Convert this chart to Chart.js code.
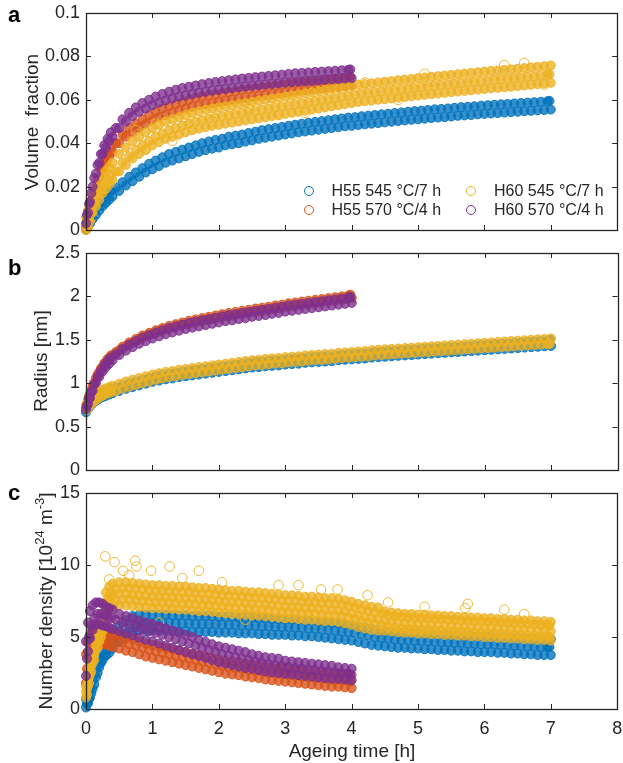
<!DOCTYPE html>
<html><head><meta charset="utf-8">
<script src="https://cdn.jsdelivr.net/npm/chart.js@4.4.1/dist/chart.umd.min.js"></script>
<style>
body{margin:0;background:#fff;width:623px;height:763px;position:relative;overflow:hidden;font-family:"Liberation Sans",Arial,Helvetica,sans-serif;color:#262626}
canvas{position:absolute;left:0}
.t{position:absolute;white-space:nowrap;line-height:1;font-size:19px;transform:translate(-50%,-50%)}
.yl{transform:translate(-50%,-50%) rotate(-90deg)}
.pl{position:absolute;font-weight:bold;font-size:22px;line-height:1;color:#000}
.lg{position:absolute;font-size:16px;line-height:1;white-space:nowrap}
.mk{position:absolute;width:8px;height:8px;border-radius:50%;border:1px solid;box-sizing:content-box}
.sup{font-size:13px;position:relative;top:-8px}
</style></head>
<body>
<canvas id="ca" width="623" height="240" style="top:0"></canvas>
<canvas id="cb" width="623" height="240" style="top:240px"></canvas>
<canvas id="cc" width="623" height="283" style="top:480px"></canvas>

<div class="pl" style="left:8px;top:4px">a</div>
<div class="pl" style="left:8px;top:257px">b</div>
<div class="pl" style="left:8px;top:482px">c</div>

<div class="t yl" style="left:31px;top:122px">Volume&nbsp;&nbsp;fraction</div>
<div class="t yl" style="left:40px;top:361px">Radius [nm]</div>
<div class="t yl" style="left:45px;top:601px">Number density [10<span class="sup">24</span> m<span class="sup">-3</span>]</div>
<div class="t" style="left:352px;top:750px">Ageing time [h]</div>

<div id="legend"></div>

<script>
// ---------- time grids [h] ----------
const T7 = [0,0.03,0.06,0.1,0.15,0.2,0.25,0.3,0.35,0.4,0.5,0.6,0.7,0.8,0.9,1,1.1,1.2,1.3,1.4,1.5,1.6,1.7,1.8,1.9,2,2.1,2.2,2.3,2.4,2.5,2.6,2.7,2.8,2.9,3,3.1,3.2,3.3,3.4,3.5,3.6,3.7,3.8,3.9,4,4.1,4.2,4.3,4.4,4.5,4.6,4.7,4.8,4.9,5,5.1,5.2,5.3,5.4,5.5,5.6,5.7,5.8,5.9,6,6.1,6.2,6.3,6.4,6.5,6.6,6.7,6.8,6.9,7];
const T7h = [0.015,0.045,0.08,0.125,0.175,0.225,0.275,0.325,0.375,0.45,0.55,0.65,0.75,0.85,0.95,1.05,1.15,1.25,1.35,1.45,1.55,1.65,1.75,1.85,1.95,2.05,2.15,2.25,2.35,2.45,2.55,2.65,2.75,2.85,2.95,3.05,3.15,3.25,3.35,3.45,3.55,3.65,3.75,3.85,3.95,4.05,4.15,4.25,4.35,4.45,4.55,4.65,4.75,4.85,4.95,5.05,5.15,5.25,5.35,5.45,5.55,5.65,5.75,5.85,5.95,6.05,6.15,6.25,6.35,6.45,6.55,6.65,6.75,6.85,6.95,6.98];
const T4 = [0,0.03,0.06,0.1,0.15,0.2,0.25,0.3,0.35,0.4,0.5,0.6,0.7,0.8,0.9,1,1.1,1.2,1.3,1.4,1.5,1.6,1.7,1.8,1.9,2,2.1,2.2,2.3,2.4,2.5,2.6,2.7,2.8,2.9,3,3.1,3.2,3.3,3.4,3.5,3.6,3.7,3.8,3.9,4];
const T4h = [0.015,0.045,0.08,0.125,0.175,0.225,0.275,0.325,0.375,0.45,0.55,0.65,0.75,0.85,0.95,1.05,1.15,1.25,1.35,1.45,1.55,1.65,1.75,1.85,1.95,2.05,2.15,2.25,2.35,2.45,2.55,2.65,2.75,2.85,2.95,3.05,3.15,3.25,3.35,3.45,3.55,3.65,3.75,3.85,3.95,3.98];

// ---------- series ----------
const seriesLabels = ["H55 545 °C/7 h","H55 570 °C/4 h","H60 545 °C/7 h","H60 570 °C/4 h"];
const seriesColors = ["#0072BD","#D95319","#EDB120","#7E2F8E"];

// ---------- panel a: volume fraction ----------
const volBlueLo = [0,0.0015,0.003,0.005,0.007,0.009,0.011,0.0125,0.014,0.0155,0.018,0.0205,0.0225,0.0245,0.0265,0.028,0.0295,0.031,0.032,0.033,0.034,0.035,0.036,0.0368,0.0375,0.038,0.039,0.0395,0.040,0.0407,0.0413,0.042,0.0425,0.043,0.0435,0.044,0.0445,0.045,0.0454,0.0458,0.0462,0.0466,0.047,0.0474,0.0478,0.048,0.0484,0.0487,0.049,0.0493,0.0496,0.0499,0.0502,0.0505,0.0508,0.051,0.0513,0.0516,0.0518,0.052,0.0523,0.0526,0.0528,0.053,0.0533,0.0535,0.0537,0.0539,0.0541,0.0543,0.0545,0.0547,0.0549,0.0551,0.0553,0.0555];
const volBlueHi = [0.003,0.0055,0.007,0.009,0.011,0.013,0.015,0.0165,0.018,0.0195,0.022,0.0245,0.0265,0.0285,0.0305,0.032,0.0335,0.035,0.036,0.037,0.038,0.039,0.040,0.0408,0.0415,0.042,0.043,0.0435,0.044,0.0447,0.0453,0.046,0.0465,0.047,0.0475,0.048,0.0485,0.049,0.0494,0.0498,0.0502,0.0506,0.051,0.0514,0.0518,0.052,0.0524,0.0527,0.053,0.0533,0.0536,0.0539,0.0542,0.0545,0.0548,0.055,0.0553,0.0556,0.0558,0.056,0.0563,0.0566,0.0568,0.057,0.0573,0.0575,0.0577,0.0579,0.0581,0.0583,0.0585,0.0587,0.0589,0.0591,0.0593,0.0595];
const volOrangeLo = [0.001,0.005,0.009,0.014,0.019,0.024,0.028,0.031,0.034,0.036,0.040,0.043,0.045,0.047,0.049,0.0505,0.052,0.053,0.054,0.055,0.056,0.0568,0.0575,0.058,0.0585,0.059,0.0595,0.060,0.0605,0.061,0.0614,0.0618,0.0622,0.0626,0.063,0.0634,0.0638,0.0642,0.0645,0.0648,0.0651,0.0654,0.0657,0.066,0.0663,0.0666];
const volOrangeHi = [0.005,0.009,0.013,0.018,0.023,0.028,0.032,0.035,0.038,0.040,0.044,0.047,0.049,0.051,0.053,0.0545,0.056,0.057,0.058,0.059,0.060,0.0608,0.0615,0.062,0.0625,0.063,0.0635,0.064,0.0645,0.065,0.0654,0.0658,0.0662,0.0666,0.067,0.0674,0.0678,0.0682,0.0685,0.0688,0.0691,0.0694,0.0697,0.070,0.0703,0.0706];
const volYellowLo = [0,0.001,0.004,0.008,0.011,0.014,0.017,0.019,0.021,0.023,0.027,0.030,0.033,0.035,0.037,0.039,0.0405,0.042,0.043,0.044,0.045,0.046,0.0467,0.0474,0.048,0.0485,0.049,0.0495,0.050,0.0505,0.051,0.0515,0.052,0.0525,0.053,0.0535,0.054,0.0545,0.055,0.0555,0.056,0.0565,0.057,0.0575,0.058,0.0585,0.059,0.0593,0.0596,0.060,0.0603,0.0606,0.061,0.0613,0.0616,0.062,0.0623,0.0626,0.0629,0.0632,0.0635,0.0638,0.0641,0.0644,0.0647,0.065,0.0653,0.0655,0.0658,0.066,0.0663,0.0666,0.0669,0.0672,0.0675,0.0678];
const volYellowMid = [0.002,0.005,0.008,0.012,0.015,0.018,0.021,0.023,0.025,0.027,0.031,0.034,0.037,0.039,0.041,0.043,0.0445,0.046,0.047,0.048,0.049,0.050,0.0507,0.0514,0.052,0.0525,0.053,0.0535,0.054,0.0545,0.055,0.0555,0.056,0.0565,0.057,0.0575,0.058,0.0585,0.059,0.0595,0.060,0.0605,0.061,0.0615,0.062,0.0625,0.063,0.0633,0.0636,0.064,0.0643,0.0646,0.065,0.0653,0.0656,0.066,0.0663,0.0666,0.0669,0.0672,0.0675,0.0678,0.0681,0.0684,0.0687,0.069,0.0693,0.0695,0.0698,0.070,0.0703,0.0706,0.0709,0.0712,0.0715,0.0718];
const volYellowHi = [0.006,0.009,0.012,0.016,0.019,0.022,0.025,0.027,0.029,0.031,0.035,0.038,0.041,0.043,0.045,0.047,0.0485,0.050,0.051,0.052,0.053,0.054,0.0547,0.0554,0.056,0.0565,0.057,0.0575,0.058,0.0585,0.059,0.0595,0.060,0.0605,0.061,0.0615,0.062,0.0625,0.063,0.0635,0.064,0.0645,0.065,0.0655,0.066,0.0665,0.067,0.0673,0.0676,0.068,0.0683,0.0686,0.069,0.0693,0.0696,0.070,0.0703,0.0706,0.0709,0.0712,0.0715,0.0718,0.0721,0.0724,0.0727,0.073,0.0733,0.0735,0.0738,0.074,0.0743,0.0746,0.0749,0.0752,0.0755,0.0758];
const volYellowOutT = [0.75,1.05,1.5,1.9,2.45,2.9,3.3,0.9,1.3,4.2,5.1,6.3,6.6,6.9,4.7,3.7];
const volYellowOutV = [0.046,0.049,0.052,0.050,0.056,0.053,0.054,0.037,0.041,0.068,0.072,0.076,0.077,0.067,0.060,0.066];
const volPurpleLo = [0.003,0.008,0.013,0.020,0.026,0.031,0.035,0.038,0.041,0.043,0.047,0.050,0.0525,0.0545,0.056,0.0575,0.0587,0.0597,0.0606,0.0614,0.062,0.0626,0.0632,0.0637,0.0642,0.0646,0.065,0.0654,0.0658,0.0661,0.0664,0.0667,0.067,0.0673,0.0676,0.0679,0.0682,0.0684,0.0686,0.0688,0.069,0.0692,0.0694,0.0696,0.0698,0.070];
const volPurpleHi = [0.007,0.012,0.017,0.024,0.030,0.035,0.039,0.042,0.045,0.047,0.051,0.054,0.0565,0.0585,0.060,0.0615,0.0627,0.0637,0.0646,0.0654,0.066,0.0666,0.0672,0.0677,0.0682,0.0686,0.069,0.0694,0.0698,0.0701,0.0704,0.0707,0.071,0.0713,0.0716,0.0719,0.0722,0.0724,0.0726,0.0728,0.073,0.0732,0.0734,0.0736,0.0738,0.074];

// ---------- panel b: radius [nm] ----------
const radBlueLo = [0.665,0.705,0.735,0.765,0.795,0.82,0.84,0.855,0.87,0.885,0.91,0.935,0.955,0.975,0.995,1.015,1.03,1.045,1.055,1.07,1.08,1.09,1.10,1.11,1.12,1.13,1.14,1.15,1.16,1.17,1.18,1.185,1.195,1.20,1.205,1.215,1.22,1.225,1.235,1.24,1.245,1.25,1.255,1.265,1.27,1.275,1.28,1.285,1.295,1.30,1.305,1.31,1.315,1.32,1.325,1.33,1.335,1.34,1.345,1.35,1.355,1.36,1.365,1.37,1.375,1.38,1.385,1.39,1.395,1.40,1.405,1.41,1.415,1.42,1.425,1.43];
const radBlueHi = [0.73,0.77,0.80,0.83,0.86,0.885,0.905,0.92,0.935,0.95,0.975,1.0,1.02,1.04,1.06,1.08,1.095,1.11,1.12,1.135,1.145,1.155,1.165,1.175,1.185,1.195,1.205,1.215,1.225,1.235,1.245,1.25,1.26,1.265,1.27,1.28,1.285,1.29,1.30,1.305,1.31,1.315,1.32,1.33,1.335,1.34,1.345,1.35,1.36,1.365,1.37,1.375,1.38,1.385,1.39,1.395,1.40,1.405,1.41,1.415,1.42,1.425,1.43,1.435,1.44,1.445,1.45,1.455,1.46,1.465,1.47,1.475,1.48,1.485,1.49,1.50];
const radOrangeLo = [0.73,0.81,0.88,0.97,1.06,1.13,1.19,1.24,1.28,1.32,1.38,1.43,1.47,1.51,1.54,1.57,1.595,1.62,1.64,1.66,1.68,1.695,1.71,1.725,1.74,1.755,1.77,1.78,1.795,1.805,1.82,1.83,1.84,1.855,1.865,1.88,1.89,1.90,1.91,1.92,1.93,1.94,1.95,1.96,1.97,1.98];
const radOrangeHi = [0.77,0.85,0.92,1.01,1.10,1.17,1.23,1.28,1.32,1.36,1.42,1.47,1.51,1.55,1.58,1.61,1.635,1.66,1.68,1.70,1.72,1.735,1.75,1.765,1.78,1.795,1.81,1.82,1.835,1.845,1.86,1.87,1.88,1.895,1.905,1.92,1.93,1.94,1.95,1.96,1.97,1.98,1.99,2.00,2.01,2.02];
const radYellowLo = [0.69,0.73,0.76,0.79,0.82,0.845,0.865,0.88,0.895,0.91,0.935,0.96,0.98,1.00,1.02,1.04,1.055,1.07,1.08,1.095,1.105,1.115,1.125,1.135,1.145,1.155,1.165,1.175,1.185,1.195,1.205,1.21,1.22,1.225,1.23,1.24,1.245,1.25,1.26,1.265,1.27,1.275,1.28,1.29,1.295,1.30,1.305,1.31,1.32,1.325,1.33,1.335,1.34,1.345,1.35,1.355,1.36,1.365,1.37,1.375,1.38,1.385,1.39,1.395,1.40,1.405,1.41,1.415,1.42,1.425,1.43,1.435,1.44,1.445,1.45,1.455];
const radYellowHi = [0.75,0.79,0.82,0.85,0.88,0.905,0.925,0.94,0.955,0.97,0.995,1.02,1.04,1.06,1.08,1.10,1.115,1.13,1.14,1.155,1.165,1.175,1.185,1.195,1.205,1.215,1.225,1.235,1.245,1.255,1.265,1.27,1.28,1.285,1.29,1.30,1.305,1.31,1.32,1.325,1.33,1.335,1.34,1.35,1.355,1.36,1.365,1.37,1.38,1.385,1.39,1.395,1.40,1.405,1.41,1.415,1.42,1.425,1.43,1.435,1.44,1.445,1.45,1.455,1.46,1.465,1.47,1.475,1.48,1.485,1.49,1.495,1.50,1.505,1.51,1.515];
const radPurpleLo = [0.70,0.76,0.83,0.915,1.005,1.075,1.135,1.185,1.225,1.265,1.325,1.375,1.415,1.455,1.485,1.515,1.54,1.565,1.585,1.605,1.625,1.64,1.655,1.67,1.685,1.70,1.715,1.725,1.74,1.75,1.765,1.775,1.785,1.80,1.81,1.825,1.835,1.845,1.855,1.865,1.875,1.885,1.895,1.905,1.915,1.925];
const radPurpleHi = [0.74,0.825,0.895,0.985,1.075,1.145,1.205,1.255,1.295,1.335,1.395,1.445,1.485,1.525,1.555,1.585,1.61,1.635,1.655,1.675,1.695,1.71,1.725,1.74,1.755,1.77,1.785,1.795,1.81,1.82,1.835,1.845,1.855,1.87,1.88,1.895,1.905,1.915,1.925,1.935,1.945,1.955,1.965,1.975,1.985,1.995];

// ---------- panel c: number density [1e24 m^-3] ----------
const denBlueLo = [0.1,0.4,0.8,1.4,2.2,2.9,3.4,3.7,3.9,4.2,4.65,5.05,5.35,5.45,5.45,5.45,5.45,5.45,5.4,5.4,5.4,5.35,5.35,5.35,5.35,5.3,5.3,5.3,5.25,5.25,5.25,5.2,5.2,5.15,5.15,5.15,5.1,5.1,5.05,5.05,5.0,4.95,4.9,4.85,4.8,4.75,4.65,4.55,4.45,4.4,4.35,4.3,4.25,4.25,4.2,4.2,4.15,4.15,4.1,4.1,4.05,4.05,4.0,4.0,3.95,3.95,3.95,3.9,3.9,3.85,3.85,3.8,3.8,3.75,3.75,3.75];
const denBlueMid = [0.4,0.7,1.1,1.7,2.5,3.2,3.7,4.1,4.4,4.7,5.2,5.6,5.9,6.0,6.0,6.0,6.0,6.0,5.95,5.95,5.95,5.9,5.9,5.9,5.9,5.85,5.85,5.85,5.8,5.8,5.8,5.75,5.75,5.7,5.7,5.7,5.65,5.65,5.6,5.6,5.55,5.5,5.45,5.4,5.35,5.3,5.2,5.1,5.0,4.95,4.9,4.85,4.8,4.8,4.75,4.75,4.7,4.7,4.65,4.65,4.6,4.6,4.55,4.55,4.5,4.5,4.5,4.45,4.45,4.4,4.4,4.35,4.35,4.3,4.3,4.3];
const denBlueHi = [0.7,1.0,1.4,2.0,2.8,3.5,4.0,4.5,4.9,5.2,5.75,6.15,6.45,6.55,6.55,6.55,6.55,6.55,6.5,6.5,6.5,6.45,6.45,6.45,6.45,6.4,6.4,6.4,6.35,6.35,6.35,6.3,6.3,6.25,6.25,6.25,6.2,6.2,6.15,6.15,6.1,6.05,6.0,5.95,5.9,5.85,5.75,5.65,5.55,5.5,5.45,5.4,5.35,5.35,5.3,5.3,5.25,5.25,5.2,5.2,5.15,5.15,5.1,5.1,5.05,5.05,5.05,5.0,5.0,4.95,4.95,4.9,4.9,4.85,4.85,4.85];
const denOrangeLo = [1.8,2.6,3.2,3.9,4.4,4.5,4.5,4.5,4.4,4.3,4.2,4.05,3.95,3.8,3.65,3.55,3.45,3.35,3.25,3.15,3.05,2.95,2.85,2.75,2.65,2.55,2.45,2.4,2.35,2.25,2.2,2.15,2.05,2.0,1.95,1.9,1.85,1.8,1.75,1.7,1.65,1.6,1.55,1.55,1.5,1.45];
const denOrangeMid = [2.8,3.6,4.2,4.7,5.0,5.1,5.1,5.0,4.9,4.8,4.65,4.5,4.4,4.25,4.1,4.0,3.9,3.8,3.7,3.6,3.5,3.4,3.3,3.2,3.1,3.0,2.9,2.85,2.8,2.7,2.65,2.6,2.5,2.45,2.4,2.35,2.3,2.25,2.2,2.15,2.1,2.05,2.0,2.0,1.95,1.9];
const denOrangeHi = [3.8,4.6,5.2,5.5,5.6,5.7,5.7,5.5,5.4,5.3,5.1,4.95,4.85,4.7,4.55,4.45,4.35,4.25,4.15,4.05,3.95,3.85,3.75,3.65,3.55,3.45,3.35,3.3,3.25,3.15,3.1,3.05,2.95,2.9,2.85,2.8,2.75,2.7,2.65,2.6,2.55,2.5,2.45,2.45,2.4,2.35];
const denYellowLo = [0.8,1.6,2.4,3.2,4.1,4.7,5.4,6.5,6.9,7.1,7.2,7.2,7.15,7.1,7.05,7.0,7.0,6.95,6.95,6.9,6.9,6.85,6.8,6.8,6.75,6.7,6.65,6.6,6.6,6.55,6.5,6.5,6.45,6.4,6.35,6.3,6.3,6.25,6.2,6.2,6.15,6.1,6.1,6.05,5.95,5.85,5.7,5.6,5.5,5.45,5.45,5.4,5.35,5.3,5.3,5.25,5.25,5.2,5.2,5.15,5.15,5.1,5.1,5.05,5.05,5.0,5.0,4.95,4.95,4.9,4.9,4.85,4.85,4.8,4.8,4.75];
const denYellowQ1 = [1.0,1.8,2.6,3.4,4.3,5.0,5.8,6.9,7.3,7.5,7.6,7.6,7.55,7.5,7.45,7.4,7.4,7.35,7.35,7.3,7.3,7.25,7.2,7.2,7.15,7.1,7.05,7.0,7.0,6.95,6.9,6.9,6.85,6.8,6.75,6.7,6.7,6.65,6.6,6.6,6.55,6.5,6.5,6.45,6.35,6.25,6.1,6.0,5.9,5.85,5.7,5.65,5.6,5.55,5.55,5.5,5.5,5.45,5.45,5.4,5.4,5.35,5.35,5.3,5.3,5.25,5.25,5.2,5.2,5.15,5.15,5.1,5.1,5.05,5.05,5.0];
const denYellowMid = [1.2,2.0,2.8,3.6,4.5,5.2,6.0,7.3,7.7,7.9,8.0,8.0,7.95,7.9,7.85,7.8,7.8,7.75,7.75,7.7,7.7,7.65,7.6,7.6,7.55,7.5,7.45,7.4,7.4,7.35,7.3,7.3,7.25,7.2,7.15,7.1,7.1,7.05,7.0,7.0,6.95,6.9,6.9,6.85,6.75,6.65,6.5,6.4,6.3,6.25,6.1,6.05,6.0,5.95,5.95,5.9,5.9,5.85,5.85,5.8,5.8,5.75,5.75,5.7,5.7,5.65,5.65,5.6,5.6,5.55,5.55,5.5,5.5,5.45,5.45,5.4];
const denYellowQ3 = [1.4,2.2,3.0,3.8,4.7,5.4,6.2,7.7,8.1,8.3,8.4,8.4,8.35,8.3,8.25,8.2,8.2,8.15,8.15,8.1,8.1,8.05,8.0,8.0,7.95,7.9,7.85,7.8,7.8,7.75,7.7,7.7,7.65,7.6,7.55,7.5,7.5,7.45,7.4,7.4,7.35,7.3,7.3,7.25,7.15,7.05,6.9,6.8,6.7,6.65,6.5,6.45,6.4,6.35,6.35,6.3,6.3,6.25,6.25,6.2,6.2,6.15,6.15,6.1,6.1,6.05,6.05,6.0,6.0,5.95,5.95,5.9,5.9,5.85,5.85,5.8];
const denYellowHi = [1.6,2.4,3.2,4.0,4.9,5.6,6.6,8.1,8.5,8.7,8.8,8.8,8.75,8.7,8.65,8.6,8.6,8.55,8.55,8.5,8.5,8.45,8.4,8.4,8.35,8.3,8.25,8.2,8.2,8.15,8.1,8.1,8.05,8.0,7.95,7.9,7.9,7.85,7.8,7.8,7.75,7.7,7.7,7.65,7.55,7.45,7.3,7.2,7.1,7.05,6.75,6.7,6.65,6.6,6.6,6.55,6.55,6.5,6.5,6.45,6.45,6.4,6.4,6.35,6.35,6.3,6.3,6.25,6.25,6.2,6.2,6.15,6.15,6.1,6.1,6.05];
const denYellowOutT = [0.29,0.43,0.74,0.76,1.26,1.7,0.56,0.98,3.54,3.79,4.24,5.71,0.65,1.45,2.05,2.9,3.2,4.55,5.1,6.3,0.35,1.1,2.4,4.9,5.75,6.6];
const denYellowOutV = [10.6,10.2,10.3,9.9,9.9,9.6,9.6,9.6,8.3,8.3,7.9,7.0,9.3,9.1,8.8,8.6,8.6,7.4,7.1,6.9,9.0,6.0,6.2,5.5,7.3,6.6];
const denPurpleLo = [2.3,4.0,4.9,5.5,5.9,5.9,5.8,5.75,5.65,5.55,5.4,5.25,5.1,4.95,4.8,4.7,4.55,4.4,4.25,4.1,3.95,3.8,3.7,3.55,3.4,3.25,3.15,3.05,2.95,2.85,2.8,2.7,2.6,2.55,2.5,2.45,2.4,2.35,2.3,2.25,2.2,2.15,2.1,2.1,2.05,2.0];
const denPurpleMid = [3.5,5.0,5.8,6.3,6.6,6.6,6.5,6.4,6.3,6.2,6.0,5.85,5.7,5.55,5.4,5.3,5.15,5.0,4.85,4.7,4.55,4.4,4.25,4.1,3.95,3.8,3.7,3.6,3.5,3.4,3.3,3.2,3.1,3.05,3.0,2.9,2.85,2.8,2.75,2.7,2.65,2.6,2.55,2.5,2.45,2.4];
const denPurpleHi = [4.7,6.0,6.8,7.2,7.4,7.4,7.3,7.1,7.0,6.9,6.6,6.45,6.3,6.15,6.0,5.9,5.75,5.6,5.45,5.3,5.15,5.0,4.8,4.65,4.5,4.35,4.25,4.15,4.05,3.95,3.8,3.7,3.6,3.55,3.5,3.35,3.3,3.25,3.2,3.15,3.1,3.05,3.0,2.9,2.85,2.8];

// ---------- axis ticks ----------
const xTicks = [0,1,2,3,4,5,6,7,8];
const volTicks = [0,0.02,0.04,0.06,0.08,0.1];
const radTicks = [0,0.5,1,1.5,2,2.5];
const denTicks = [0,5,10,15];

// ---------- helpers ----------
function pts(T, Y){ const n = Math.min(T.length, Y.length); const o = []; for (let i = 0; i < n; i++) o.push({x: T[i], y: Y[i]}); return o; }
function hexA(h, a){ const n = parseInt(h.slice(1), 16); return `rgba(${n>>16},${(n>>8)&255},${n&255},${a})`; }
function ds(k, rows){
  let d = []; rows.forEach(r => { d = d.concat(pts(r[0], r[1])); });
  return { label: seriesLabels[k], data: d, order: 4 - k,
    borderColor: hexA(seriesColors[k], 0.9), backgroundColor: hexA(seriesColors[k], 0.78),
    pointRadius: 4.5, pointBorderWidth: 1, pointHoverRadius: 4.5, showLine: false, clip: false };
}
function dsOut(k, T, Y){
  return { label: seriesLabels[k], data: pts(T, Y), order: 4 - k,
    borderColor: hexA(seriesColors[k], 0.9), backgroundColor: 'rgba(0,0,0,0)',
    pointRadius: 4.8, pointBorderWidth: 1, pointHoverRadius: 4.8, showLine: false, clip: false };
}

const FONT = '"Liberation Sans", Arial, Helvetica, sans-serif';
const frame = {
  id: 'frame',
  afterDatasetsDraw(chart, args, opts){
    const {ctx, chartArea: a, scales: {x, y}} = chart;
    const yt = opts.yt || [];
    const tl = 5;
    ctx.save();
    ctx.strokeStyle = '#262626'; ctx.lineWidth = 1;
    ctx.beginPath();
    xTicks.forEach(v => { const p = Math.round(x.getPixelForValue(v)) + 0.5;
      ctx.moveTo(p, a.bottom); ctx.lineTo(p, a.bottom - tl); ctx.moveTo(p, a.top); ctx.lineTo(p, a.top + tl); });
    yt.forEach(v => { const p = Math.round(y.getPixelForValue(v)) + 0.5;
      ctx.moveTo(a.left, p); ctx.lineTo(a.left + tl, p); ctx.moveTo(a.right, p); ctx.lineTo(a.right - tl, p); });
    ctx.stroke();
    ctx.lineWidth = 1.3;
    ctx.strokeRect(Math.round(a.left) + 0.5, Math.round(a.top) + 0.5, Math.round(a.right - a.left), Math.round(a.bottom - a.top));
    ctx.restore();
  }
};

function make(id, datasets, yt, showX, xH){
  return new Chart(document.getElementById(id), {
    type: 'scatter',
    data: { datasets },
    options: {
      responsive: false, animation: false, devicePixelRatio: 1,
      layout: { padding: { top: 13, right: 4, left: 0, bottom: 0 } },
      plugins: { legend: { display: false }, tooltip: { enabled: false }, frame: { yt } },
      events: [],
      scales: {
        x: { type: 'linear', min: xTicks[0], max: xTicks[xTicks.length - 1],
          grid: { display: false, drawTicks: false }, border: { display: false },
          afterBuildTicks: s => { s.ticks = xTicks.map(v => ({ value: v })); },
          ticks: { display: showX, color: '#262626', font: { family: FONT, size: 18 }, padding: 9, maxRotation: 0, autoSkip: false,
            callback: v => String(v) },
          afterFit: s => { s.height = xH; s.paddingLeft = 0; s.paddingRight = 0; } },
        y: { type: 'linear', min: yt[0], max: yt[yt.length - 1],
          grid: { display: false, drawTicks: false }, border: { display: false },
          afterBuildTicks: s => { s.ticks = yt.map(v => ({ value: v })); },
          ticks: { color: '#262626', font: { family: FONT, size: 18 }, padding: 6, autoSkip: false,
            callback: v => String(+(+v).toFixed(4)) },
          afterFit: s => { s.width = 86; s.paddingTop = 0; s.paddingBottom = 0; } }
      }
    },
    plugins: [frame]
  });
}

make('ca', [
  ds(0, [[T7, volBlueLo], [T7h, volBlueHi]]),
  ds(1, [[T4, volOrangeLo], [T4h, volOrangeHi]]),
  ds(2, [[T7, volYellowLo], [T7h, volYellowMid], [T7, volYellowHi]]),
  dsOut(2, volYellowOutT, volYellowOutV),
  ds(3, [[T4, volPurpleLo], [T4h, volPurpleHi]])
], volTicks, false, 10);

make('cb', [
  ds(0, [[T7, radBlueLo], [T7h, radBlueHi]]),
  ds(1, [[T4, radOrangeLo], [T4h, radOrangeHi]]),
  ds(2, [[T7h, radYellowLo], [T7, radYellowHi]]),
  ds(3, [[T4, radPurpleLo], [T4h, radPurpleHi]])
], radTicks, false, 10);

make('cc', [
  ds(0, [[T7, denBlueLo], [T7h, denBlueMid], [T7, denBlueHi]]),
  ds(1, [[T4, denOrangeLo], [T4h, denOrangeMid], [T4, denOrangeHi]]),
  ds(2, [[T7, denYellowLo], [T7h, denYellowQ1], [T7, denYellowMid], [T7h, denYellowQ3], [T7, denYellowHi]]),
  dsOut(2, denYellowOutT, denYellowOutV),
  ds(3, [[T4, denPurpleLo], [T4h, denPurpleMid], [T4, denPurpleHi]])
], denTicks, true, 54);

// ---------- legend (inside panel a) ----------
const legPos = [[308.5, 190.5, 331.5], [308.5, 209.5, 331.5], [470.5, 190.5, 494], [470.5, 209.5, 494]];
const legEl = document.getElementById('legend');
seriesLabels.forEach((lab, k) => {
  const [mx, my, tx] = legPos[k];
  const m = document.createElement('div'); m.className = 'mk';
  m.style.left = (mx - 5) + 'px'; m.style.top = (my - 5) + 'px'; m.style.borderColor = seriesColors[k];
  legEl.appendChild(m);
  const t = document.createElement('div'); t.className = 'lg'; t.textContent = lab;
  t.style.left = tx + 'px'; t.style.top = (my - 8) + 'px';
  legEl.appendChild(t);
});
</script>
</body></html>
